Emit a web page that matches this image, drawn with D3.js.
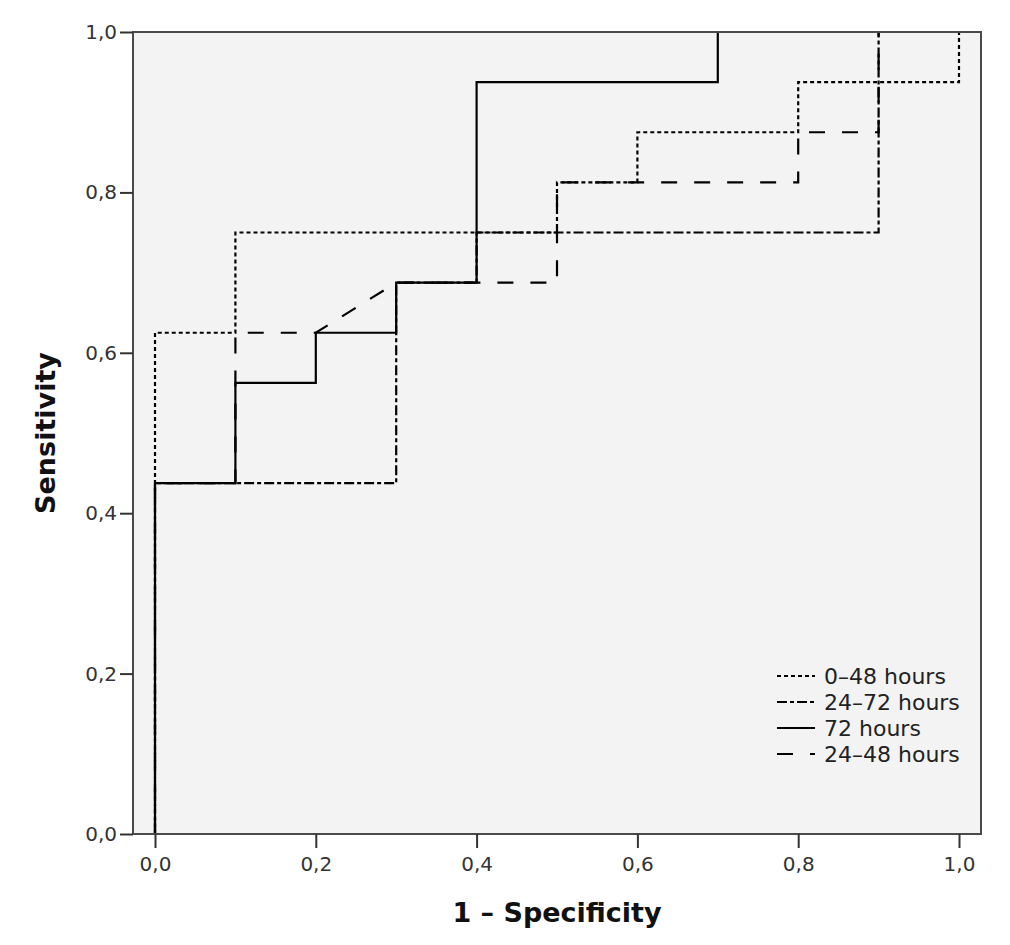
<!DOCTYPE html>
<html>
<head>
<meta charset="utf-8">
<script src="https://cdn.jsdelivr.net/npm/d3@7"></script>
<style>
  html, body { margin: 0; padding: 0; background: #ffffff; }
  svg { display: block; }
  text { font-family: "DejaVu Sans", Verdana, sans-serif; }
</style>
</head>
<body>
<svg id="chart" width="1010" height="945"></svg>
<script>
// ---- data ----
const seriesNames = ["0–48 hours", "24–72 hours", "72 hours", "24–48 hours"];
const fpr_0_48  = [0, 0, 0.1, 0.1, 0.5, 0.5, 0.6, 0.6, 0.8, 0.8, 1.0, 1.0];
const tpr_0_48  = [0, 0.625, 0.625, 0.75, 0.75, 0.8125, 0.8125, 0.875, 0.875, 0.9375, 0.9375, 1.0];
const fpr_24_72 = [0, 0, 0.3, 0.3, 0.4, 0.4, 0.9, 0.9, 1.0];
const tpr_24_72 = [0, 0.4375, 0.4375, 0.6875, 0.6875, 0.75, 0.75, 1.0, 1.0];
const fpr_72    = [0, 0, 0.1, 0.1, 0.2, 0.2, 0.3, 0.3, 0.4, 0.4, 0.7, 0.7, 1.0];
const tpr_72    = [0, 0.4375, 0.4375, 0.5625, 0.5625, 0.625, 0.625, 0.6875, 0.6875, 0.9375, 0.9375, 1.0, 1.0];
const fpr_24_48 = [0, 0, 0.1, 0.1, 0.2, 0.3, 0.5, 0.5, 0.8, 0.8, 0.9, 0.9, 1.0];
const tpr_24_48 = [0, 0.4375, 0.4375, 0.625, 0.625, 0.6875, 0.6875, 0.8125, 0.8125, 0.875, 0.875, 1.0, 1.0];
const xTicks = [0, 0.2, 0.4, 0.6, 0.8, 1.0];
const yTicks = [0, 0.2, 0.4, 0.6, 0.8, 1.0];

const dashes = ["4,3", "10,3,4,3", null, "16,17"];
const series = [
  {name: seriesNames[0], x: fpr_0_48,  y: tpr_0_48,  dash: dashes[0]},
  {name: seriesNames[1], x: fpr_24_72, y: tpr_24_72, dash: dashes[1]},
  {name: seriesNames[3], x: fpr_24_48, y: tpr_24_48, dash: dashes[3]},
  {name: seriesNames[2], x: fpr_72,    y: tpr_72,    dash: dashes[2]}
];

const svg = d3.select("#chart");
const frame = {left: 133, right: 981, top: 32, bottom: 834};
const x = d3.scaleLinear().domain([0, 1]).range([155, 959]);
const y = d3.scaleLinear().domain([0, 1]).range([834, 32]);
const fmt = d => d3.format(".1f")(d).replace(".", ",");

// plot background
svg.append("rect")
  .attr("x", frame.left).attr("y", frame.top)
  .attr("width", frame.right - frame.left).attr("height", frame.bottom - frame.top)
  .attr("fill", "#f3f3f3");

// lines
const line = d3.line().x(d => x(d[0])).y(d => y(d[1]));
series.forEach(s => {
  const pts = s.x.map((v, i) => [v, s.y[i]]);
  svg.append("path")
    .attr("d", line(pts))
    .attr("fill", "none")
    .attr("stroke", "#000")
    .attr("stroke-width", 2.2)
    .attr("stroke-dasharray", s.dash)
    .attr("stroke-linejoin", "miter");
});

// frame
svg.append("rect")
  .attr("x", frame.left).attr("y", frame.top)
  .attr("width", frame.right - frame.left).attr("height", frame.bottom - frame.top)
  .attr("fill", "none").attr("stroke", "#4a4a4a").attr("stroke-width", 2);

// axes
const xAxis = d3.axisBottom(x).tickValues(xTicks).tickFormat(fmt).tickSize(14).tickSizeOuter(0);
const gx = svg.append("g").attr("transform", `translate(0,${frame.bottom})`).call(xAxis);
gx.select(".domain").remove();
gx.selectAll(".tick line").attr("stroke", "#333").attr("stroke-width", 2);
gx.selectAll(".tick text").attr("font-size", 20).attr("fill", "#333")
  .attr("font-family", "'DejaVu Sans', sans-serif").attr("dy", "0.95em").attr("y", 18);

const yAxis = d3.axisLeft(y).tickValues(yTicks).tickFormat(fmt).tickSize(13).tickSizeOuter(0);
const gy = svg.append("g").attr("transform", `translate(${frame.left},0)`).call(yAxis);
gy.select(".domain").remove();
gy.selectAll(".tick line").attr("stroke", "#333").attr("stroke-width", 2);
gy.selectAll(".tick text").attr("font-size", 20).attr("fill", "#333")
  .attr("font-family", "'DejaVu Sans', sans-serif").attr("x", -16);

// axis titles
svg.append("text")
  .attr("x", 557).attr("y", 922)
  .attr("text-anchor", "middle")
  .attr("font-size", 27).attr("font-weight", "bold").attr("fill", "#111")
  .text("1 – Specificity");
svg.append("text")
  .attr("transform", "translate(55,433) rotate(-90)")
  .attr("text-anchor", "middle")
  .attr("font-size", 27).attr("font-weight", "bold").attr("fill", "#111")
  .text("Sensitivity");

// legend
const legendOrder = [0, 1, 2, 3];
const legendDash = dashes;
const lg = svg.append("g");
legendOrder.forEach((k, i) => {
  const yy = 676 + i * 26;
  lg.append("line")
    .attr("x1", 777).attr("x2", 815).attr("y1", yy).attr("y2", yy)
    .attr("stroke", "#000").attr("stroke-width", 2.2)
    .attr("stroke-dasharray", legendDash[k]);
  lg.append("text")
    .attr("x", 824).attr("y", yy).attr("dy", "0.36em")
    .attr("font-size", 22).attr("fill", "#222")
    .text(seriesNames[k]);
});
</script>
</body>
</html>
